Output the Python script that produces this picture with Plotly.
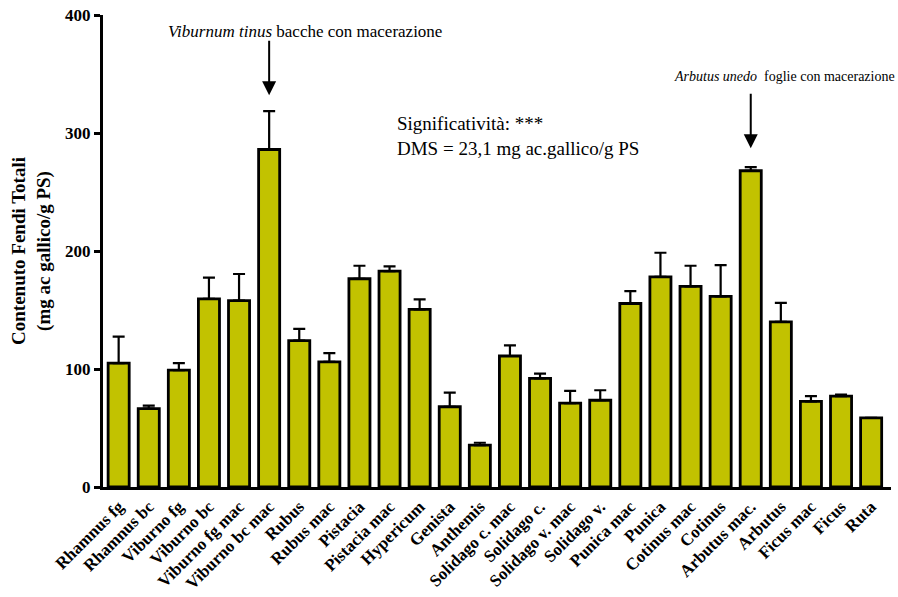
import plotly.graph_objects as go

# Campioni analizzati
categories = [
    "Rhamnus fg", "Rhamnus bc", "Viburno fg", "Viburno bc", "Viburno fg mac",
    "Viburno bc mac", "Rubus", "Rubus mac", "Pistacia", "Pistacia mac",
    "Hypericum", "Genista", "Anthemis", "Solidago c. mac", "Solidago c.",
    "Solidago v. mac", "Solidago v.", "Punica mac", "Punica", "Cotinus mac",
    "Cotinus", "Arbutus mac.", "Arbutus", "Ficus mac", "Ficus", "Ruta",
]

# Contenuto medio di fenoli totali (mg ac. gallico / g PS)
means = [
    105, 66.5, 99, 159.5, 158, 286, 124, 106, 176.5, 183,
    150.5, 68, 35.5, 111, 92, 71, 73.5, 155.5, 178, 170,
    161.5, 268, 140, 72.5, 77, 58.5,
]

# Deviazione standard (solo barra superiore)
errors = [
    22.5, 2.5, 6, 18, 22.5, 32.5, 10, 7.5, 11, 4,
    8.5, 12, 2, 9, 4, 10.5, 8.5, 10.5, 20.5, 17.5,
    26.5, 3, 16, 4.5, 1.2, 0,
]

y_ticks = [0, 100, 200, 300, 400]

serif = "Liberation Serif, Times New Roman, Tinos, DejaVu Serif, serif"

# area del grafico in pixel (per posizionare le note)
L, R, T, B = 103, 891, 15, 487


def px(xp):
    return (xp - L) / (R - L)


def py(yp):
    return (B - yp) / (B - T)


fig = go.Figure()
fig.add_trace(go.Bar(
    x=list(range(len(categories))),
    y=means,
    width=0.7,
    marker=dict(color="#C2C200", line=dict(color="black", width=2.8)),
    error_y=dict(
        type="data", symmetric=False, array=errors,
        arrayminus=[0] * len(errors),
        color="black", thickness=2.2, width=6,
    ),
    showlegend=False,
))

fig.update_layout(
    width=898, height=597,
    margin=dict(l=L, r=898 - R, t=T, b=597 - B),
    paper_bgcolor="white", plot_bgcolor="white",
    font=dict(family=serif, color="black"),
)

fig.update_xaxes(
    range=[-0.52, 25.66],
    tickmode="array",
    tickvals=list(range(len(categories))),
    ticktext=categories,
    tickangle=-45,
    tickfont=dict(family=serif, size=17, weight="bold", color="black"),
    showline=True, linecolor="black", linewidth=3,
    ticks="", showgrid=False, zeroline=False,
    automargin=False,
)

fig.update_yaxes(
    range=[0, 400],
    tickmode="array",
    tickvals=y_ticks,
    ticks="outside", ticklen=6, tickwidth=2.5, tickcolor="black",
    tickfont=dict(family=serif, size=17, weight="bold", color="black"),
    showline=True, linecolor="black", linewidth=3,
    showgrid=False, zeroline=False,
    automargin=False,
    title=dict(
        text="Contenuto Fendi Totali<br>(mg ac gallico/g PS)",
        font=dict(family=serif, size=19, weight="bold", color="black"),
        standoff=10,
    ),
)

# Frecce di evidenza sui campioni macerati
fig.add_annotation(
    x=5, y=332, xref="x", yref="y", text="",
    showarrow=True, ax=0, ay=-56,
    arrowhead=2, arrowsize=1.4, arrowwidth=2, arrowcolor="black",
)
fig.add_annotation(
    x=21, y=287, xref="x", yref="y", text="",
    showarrow=True, ax=0, ay=-56,
    arrowhead=2, arrowsize=1.4, arrowwidth=2, arrowcolor="black",
)

fig.add_annotation(
    x=px(305), y=py(31), xref="paper", yref="paper",
    text="<i>Viburnum tinus</i> bacche con macerazione",
    showarrow=False, xanchor="center", yanchor="middle",
    font=dict(family=serif, size=17, color="black"),
)
fig.add_annotation(
    x=px(897), y=py(76), xref="paper", yref="paper",
    text="<i>Arbutus unedo</i>  foglie con macerazione",
    showarrow=False, xanchor="right", yanchor="middle",
    font=dict(family=serif, size=14, color="black"),
)
fig.add_annotation(
    x=px(395), y=py(136), xref="paper", yref="paper",
    text="Significatività: ***<br>DMS = 23,1 mg ac.gallico/g PS",
    showarrow=False, xanchor="left", yanchor="middle", align="left",
    font=dict(family=serif, size=19, color="black"),
)

fig.write_html("out.html")
